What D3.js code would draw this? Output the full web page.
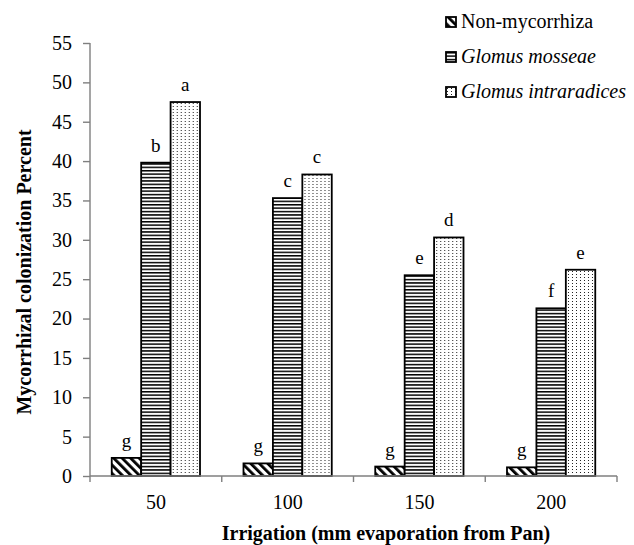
<!DOCTYPE html>
<html>
  <head>
    <meta charset="utf-8" />
    <title>Mycorrhizal colonization</title>
    <script src="https://d3js.org/d3.v7.min.js"></script>
    <style>
        body { margin: 0; background: #fff; }
    </style>
  </head>
  <body>
    <svg id="chart"></svg>
    <script>
        // data
        var categories = ["50", "100", "150", "200"];
        var seriesNames = ["Non-mycorrhiza", "Glomus mosseae", "Glomus intraradices"];
        var nonMyc = [2.3, 1.6, 1.2, 1.1];
        var mosseae = [39.8, 35.3, 25.5, 21.3];
        var intraradices = [47.5, 38.3, 30.3, 26.2];
        var letters = [["g", "b", "a"], ["g", "c", "c"], ["g", "e", "d"], ["g", "f", "e"]];
        var yTicks = [0, 5, 10, 15, 20, 25, 30, 35, 40, 45, 50, 55];

        var width = 634, height = 545;
        var margin = {top: 43, right: 17, bottom: 69, left: 90};
        var serif = "'Liberation Serif', 'Times New Roman', serif";

        var svg = d3.select("#chart").attr("width", width).attr("height", height);

        // patterns
        var defs = svg.append("defs");
        var diag = defs.append("pattern").attr("id", "diag")
          .attr("patternUnits", "userSpaceOnUse").attr("width", 6).attr("height", 6)
          .attr("patternTransform", "rotate(-45)");
        diag.append("rect").attr("width", 6).attr("height", 6).attr("fill", "#fff");
        diag.append("rect").attr("width", 2.8).attr("height", 6).attr("fill", "#000");

        var horiz = defs.append("pattern").attr("id", "horiz")
          .attr("patternUnits", "userSpaceOnUse").attr("width", 4).attr("height", 3.4);
        horiz.append("rect").attr("width", 4).attr("height", 3.4).attr("fill", "#fff");
        horiz.append("rect").attr("width", 4).attr("height", 1.5).attr("fill", "#000");

        var dots = defs.append("pattern").attr("id", "dots")
          .attr("patternUnits", "userSpaceOnUse").attr("width", 4).attr("height", 3);
        dots.append("rect").attr("width", 4).attr("height", 3).attr("fill", "#fff");
        dots.append("rect").attr("x", 1).attr("y", 1).attr("width", 1).attr("height", 1).attr("fill", "#222");
        var fills = ["url(#diag)", "url(#horiz)", "url(#dots)"];

        var x0 = d3.scaleBand().domain(categories)
          .range([margin.left, width - margin.right]).paddingInner(0.33).paddingOuter(0.165);
        var x1 = d3.scaleBand().domain([0, 1, 2]).range([0, x0.bandwidth()]);
        var y = d3.scaleLinear().domain([0, 55]).range([height - margin.bottom, margin.top]);

        var rows = categories.map(function(c, i) {
            return [nonMyc[i], mosseae[i], intraradices[i]];
        });

        // bars
        var groups = svg.append("g").selectAll("g").data(rows).enter().append("g")
          .attr("transform", function(d, i) { return "translate(" + x0(categories[i]) + ",0)"; });

        groups.selectAll("rect").data(function(d) { return d; }).enter().append("rect")
          .attr("x", function(d, j) { return x1(j); })
          .attr("y", function(d) { return y(d); })
          .attr("width", x1.bandwidth())
          .attr("height", function(d) { return y(0) - y(d); })
          .attr("fill", function(d, j) { return fills[j]; })
          .attr("stroke", "#000").attr("stroke-width", 1.8);

        // significance letters
        groups.each(function(d, i) {
            d3.select(this).selectAll("text.lbl").data(d).enter().append("text")
              .attr("class", "lbl")
              .attr("x", function(v, j) { return x1(j) + x1.bandwidth() / 2; })
              .attr("y", function(v) { return y(v) - 11; })
              .attr("text-anchor", "middle")
              .style("font-family", serif).style("font-size", "19px")
              .text(function(v, j) { return letters[i][j]; });
        });

        // y axis
        var yAxis = svg.append("g").attr("transform", "translate(" + margin.left + ",0)")
          .call(d3.axisLeft(y).tickValues(yTicks).tickSize(7).tickPadding(11));
        yAxis.selectAll("path, line").attr("stroke", "#7f7f7f").attr("stroke-width", 1.4);
        yAxis.select(".domain").attr("d", "M0," + y(55) + "V" + y(0));
        yAxis.selectAll("text").style("font-family", serif).style("font-size", "20px").attr("fill", "#000");

        // x axis: ticks between groups
        var step = x0.step();
        var xAxis = svg.append("g").attr("transform", "translate(0," + y(0) + ")");
        xAxis.append("line").attr("x1", margin.left).attr("x2", width - margin.right)
          .attr("stroke", "#7f7f7f").attr("stroke-width", 1.4);
        var bounds = d3.range(categories.length + 1).map(function(i) { return margin.left + i * step; });
        xAxis.selectAll("line.tk").data(bounds).enter().append("line").attr("class", "tk")
          .attr("x1", function(d) { return d; }).attr("x2", function(d) { return d; })
          .attr("y1", 0).attr("y2", 6).attr("stroke", "#7f7f7f").attr("stroke-width", 1.4);
        xAxis.selectAll("text").data(categories).enter().append("text")
          .attr("x", function(d) { return x0(d) + x0.bandwidth() / 2; })
          .attr("y", 33).attr("text-anchor", "middle")
          .style("font-family", serif).style("font-size", "20px")
          .text(function(d) { return d; });

        // axis titles
        svg.append("text").attr("transform", "translate(24,272) rotate(-90)")
          .attr("text-anchor", "middle").attr("dominant-baseline", "central")
          .style("font-family", serif).style("font-size", "20px").style("font-weight", "bold")
          .text("Mycorrhizal colonization Percent");
        svg.append("text").attr("x", 386).attr("y", 540)
          .attr("text-anchor", "middle")
          .style("font-family", serif).style("font-size", "20px").style("font-weight", "bold")
          .text("Irrigation (mm evaporation from Pan)");

        // legend
        var legend = svg.append("g").selectAll("g").data(seriesNames).enter().append("g")
          .attr("transform", function(d, i) { return "translate(446," + (17 + i * 35) + ")"; });
        legend.append("rect").attr("width", 10).attr("height", 10)
          .attr("fill", function(d, i) { return fills[i]; })
          .attr("stroke", "#000").attr("stroke-width", 1.8);
        legend.append("text").attr("x", 15).attr("y", 11)
          .style("font-family", serif).style("font-size", "20px")
          .style("font-style", function(d, i) { return i === 0 ? "normal" : "italic"; })
          .text(function(d) { return d; });
    </script>
  </body>
</html>
